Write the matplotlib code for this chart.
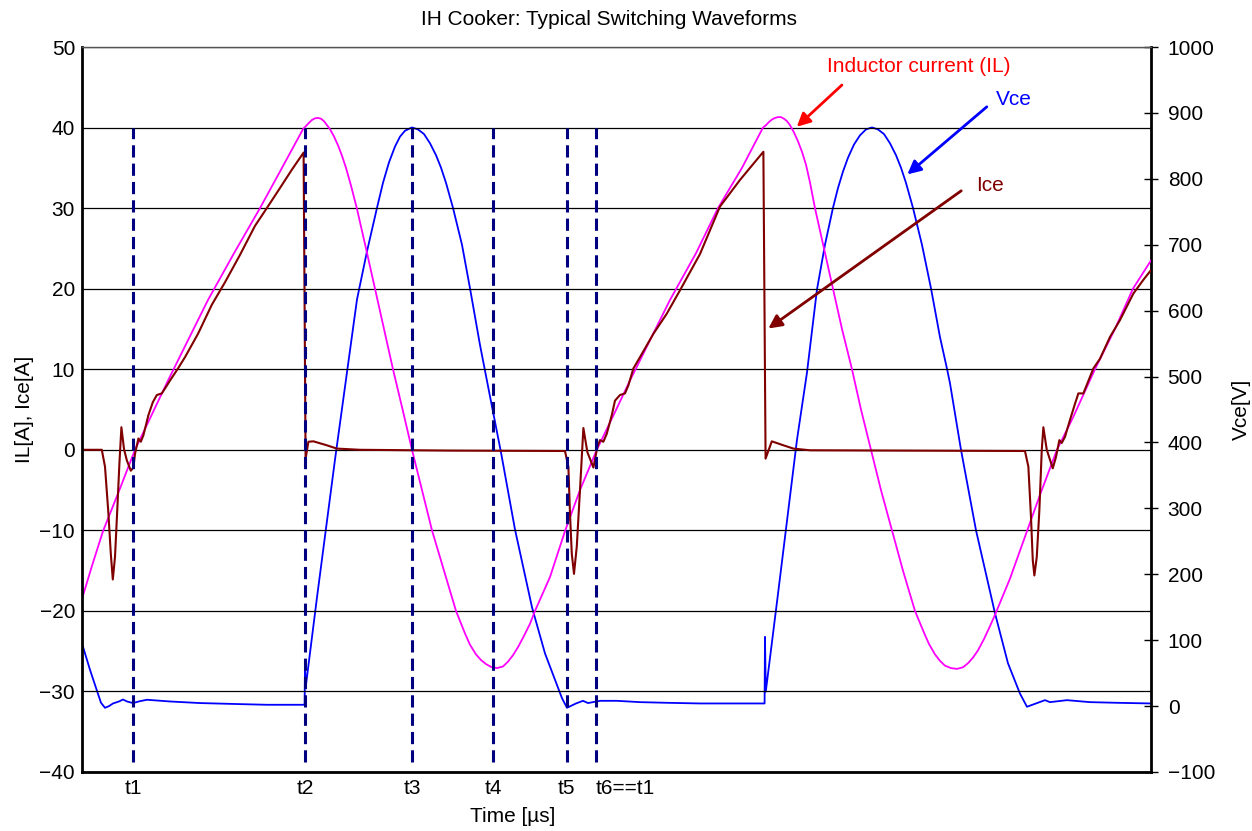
import matplotlib
matplotlib.use("Agg")
import matplotlib.pyplot as plt

plt.rcParams['font.family'] = ['Liberation Sans', 'DejaVu Sans']
plt.rcParams['font.size'] = 15

# Inductor current IL [A]
t_il = [0.0, 0.5, 1.05, 1.9, 2.65, 3.4, 4.3, 5.3, 6.3, 7.6, 8.9, 10.0, 11.05, 11.2,
        11.35, 11.5, 11.65, 11.8, 11.95, 12.1, 12.25, 12.4, 12.6, 12.8, 13.0, 13.2,
        13.45, 13.74, 14.2, 14.65, 15.1, 15.55, 16.03, 16.5, 17.0, 17.5, 18.1, 18.7,
        19.15, 19.4, 19.7, 19.95, 20.2, 20.45, 20.75, 21.05, 21.3, 21.55, 21.8, 22.1,
        22.4, 22.65, 23.4, 24.15, 24.9, 25.74, 26.5, 27.4, 28.4, 29.4, 30.7, 31.8, 33.0,
        34.05, 34.2, 34.35, 34.5, 34.65, 34.8, 34.95, 35.1, 35.25, 35.4, 35.6, 35.8,
        36.0, 36.2, 36.4, 36.65, 37.1, 37.55, 38.0, 38.5, 38.95, 39.45, 39.95, 40.5,
        41.05, 41.65, 42.1, 42.35, 42.65, 42.9, 43.15, 43.45, 43.75, 44.05, 44.3, 44.55,
        44.8, 45.1, 45.4, 45.65, 46.4, 47.15, 47.9, 48.75, 49.55, 50.65, 51.65, 52.55,
        53.45]
il = [-18.5, -14.4, -10.1, -4.8, 0.0, 3.9, 8.6, 13.6, 18.6, 24.4, 30.0, 35.0, 39.8, 40.2,
      40.6, 40.95, 41.15, 41.2, 41.1, 40.8, 40.3, 39.8, 38.9, 37.8, 36.5, 35.0,
      32.8, 30.0, 25.0, 20.0, 15.0, 10.0, 5.0, 0.0, -5.0, -10.0, -15.0, -20.0,
      -22.8, -24.2, -25.4, -26.1, -26.6, -26.95, -27.1, -26.9, -26.3, -25.5, -24.5, -23.1,
      -21.6, -20.0, -15.8, -10.1, -5.0, 0.0, 3.9, 8.6, 13.6, 18.6, 24.4, 30.0, 35.0,
      40.0, 40.3, 40.7, 41.0, 41.2, 41.3, 41.3, 41.1, 40.8, 40.3, 39.4, 38.3,
      37.0, 35.4, 33.2, 30.0, 25.0, 20.0, 15.0, 10.0, 5.0, 0.0, -5.0, -10.0,
      -15.0, -20.0, -22.7, -24.1, -25.4, -26.2, -26.8, -27.1, -27.2, -27.0, -26.5, -25.8,
      -24.9, -23.5, -21.9, -20.5, -16.0, -10.8, -5.6, 0.0, 4.0, 10.0, 15.0, 20.0,
      23.5]

# Collector-emitter current Ice [A]
t_ice = [0.0, 0.99, 1.15, 1.32, 1.44, 1.54, 1.65, 1.77, 1.87, 1.97, 2.1, 2.24, 2.44, 2.57,
         2.65, 2.82, 2.94, 3.07, 3.32, 3.54, 3.74, 3.99, 4.2, 4.4, 4.8, 5.15, 5.8, 6.49,
         7.15, 7.9, 8.65, 9.24, 9.9, 10.5, 11.08, 11.18, 11.32, 11.57, 12.24, 12.74, 13.9,
         18.4, 24.15, 24.32, 24.4, 24.49, 24.6, 24.74, 24.9, 25.07, 25.27, 25.57, 25.77,
         25.9, 26.07, 26.24, 26.49, 26.65, 26.9, 27.15, 27.32, 27.57, 27.9, 28.57, 29.24,
         29.9, 30.9, 31.9, 32.9, 34.07, 34.18, 34.49, 35.07, 35.57, 36.4, 40.9, 47.15,
         47.32, 47.45, 47.54, 47.62, 47.74, 47.87, 47.99, 48.07, 48.24, 48.54, 48.7, 48.87,
         48.99, 49.15, 49.4, 49.65, 49.82, 50.07, 50.57, 50.9, 51.4, 51.9, 52.57, 53.07,
         53.45]
ice = [0.0, 0.0, -2.1, -7.9, -12.9, -16.1, -13.3, -7.1, -1.7, 2.8, 0.1, -1.3, -2.6, -2.2,
       -0.5, 1.4, 1.0, 1.8, 4.3, 5.9, 6.8, 7.0, 7.8, 8.6, 10.1, 11.5, 14.4, 18.0,
       20.8, 24.2, 27.8, 30.0, 32.5, 34.8, 36.9, -1.1, 1.0, 1.05, 0.56, 0.15, 0.0,
       -0.1, -0.15, -2.1, -7.9, -12.9, -15.4, -12.0, -5.0, 2.7, -0.3, -2.2, 0.35,
       1.2, 1.0, 2.0, 4.3, 6.1, 6.8, 7.0, 8.0, 10.1, 11.5, 14.4, 16.9,
       19.8, 24.3, 30.2, 33.5, 37.0, -1.1, 1.05, 0.56, 0.15, -0.06, -0.1, -0.15,
       -2.1, -8.3, -13.7, -15.6, -13.3, -7.5, 0.0, 2.8, 0.0, -2.3, -0.9, 1.2,
       0.85, 1.6, 3.7, 5.7, 7.0, 7.0, 10.1, 11.3, 14.0, 16.1, 19.4, 21.1,
       22.3]

# Collector-emitter voltage Vce [V]
t_vce = [0.0, 0.4, 0.74, 0.95, 1.15, 1.35, 1.55, 1.85, 2.05, 2.25, 2.55, 2.9, 3.25, 4.4,
         5.9, 7.9, 9.25, 11.13, 11.15, 11.19, 11.75, 12.65, 13.75, 14.25, 14.75, 15.05,
         15.35, 15.65, 15.9, 16.15, 16.5, 16.8, 17.1, 17.4, 17.7, 17.95, 18.2, 18.55,
         19.0, 19.4, 19.9, 20.4, 20.95, 21.65, 22.5, 23.15, 23.65, 24.0, 24.25, 24.7,
         25.05, 25.3, 25.9, 26.75, 27.9, 29.25, 30.9, 32.55, 34.13, 34.15, 34.19, 34.8,
         35.75, 36.25, 36.75, 37.15, 37.55, 37.8, 38.05, 38.3, 38.6, 38.9, 39.2, 39.5,
         39.8, 40.1, 40.4, 40.7, 40.95, 41.2, 41.55, 42.0, 42.45, 42.9, 43.25, 43.4,
         43.95, 44.7, 45.65, 46.3, 46.9, 47.25, 47.7, 48.15, 48.4, 49.25, 50.4, 51.75,
         53.45]
vce = [95, 55, 24, 5, -2.6, 0, 4, 7, 10, 7, 4.6, 7.5, 9.6, 7,
       4.6, 3, 2, 2, 60, 30, 165, 374, 617, 690, 756, 794,
       825, 849, 864, 873, 878, 875, 868, 854, 836, 817, 794, 756,
       700, 634, 548, 470, 385, 268, 150, 80, 40, 12, -2.6, 4,
       8, 4.6, 8, 8, 6, 5, 4, 4, 4, 105, 22, 170,
       404, 506, 632, 700, 756, 786, 811, 832, 852, 866, 875, 878,
       875, 868, 854, 836, 817, 794, 756, 700, 634, 560, 512, 490,
       389, 267, 141, 65, 19, -1, 4, 9, 6, 9, 6, 5,
       4]

# switching instants
t_marks = [2.55, 11.15, 16.5, 20.57, 24.23, 25.7]
t_names = ['t1', 't2', 't3', 't4', 't5', 't6==t1']

fig = plt.figure(figsize=(12.52, 8.31), dpi=100)
ax = fig.add_axes([0.0655, 0.0710, 0.8538, 0.8724])
ax2 = ax.twinx()
ax.set_zorder(ax2.get_zorder() + 1)
ax.patch.set_visible(False)

ax2.plot(t_vce, vce, color='#0000FF', lw=1.3)
ax.plot(t_il, il, color='#FF00FF', lw=1.3)
ax.plot(t_ice, ice, color='#800000', lw=1.5)
ax.vlines(t_marks, -38.7, 40, colors='#000080', linestyles=(0, (4, 2)), lw=2.2, zorder=5)

ax.set_xlim(0, 53.45)
ax.set_ylim(-40, 50)
ax.set_yticks(range(-40, 51, 10))
ax2.set_ylim(-100, 1000)
ax2.set_yticks(range(-100, 1001, 100))
ax.yaxis.grid(True, color='k', lw=0.9)

ax.set_xticks(t_marks, labels=t_names)
ax.get_xticklabels()[-1].set_horizontalalignment('left')
ax.tick_params(axis='x', length=0, pad=5)
ax.tick_params(axis='y', length=0, pad=5)
ax2.tick_params(axis='y', direction='inout', length=10, width=1, pad=7)

for s in ['left', 'bottom']:
    ax.spines[s].set_linewidth(2)
ax.spines['right'].set_visible(False)
ax.spines['top'].set_linewidth(1)
ax.spines['top'].set_color('#555555')
for s in ['left', 'bottom', 'top']:
    ax2.spines[s].set_visible(False)
ax2.spines['right'].set_linewidth(2)

ax.set_title('IH Cooker: Typical Switching Waveforms', fontsize=15, pad=16, x=0.493)
ax.set_ylabel('IL[A], Ice[A]', labelpad=4)
ax2.set_ylabel('Vce[V]', labelpad=12)
ax.set_xlabel('Time [µs]')
ax.xaxis.set_label_coords(0.403, -0.048)

ax.annotate('Inductor current (IL)', xy=(35.74, 40.1), xytext=(41.85, 47.64),
            color='#FF0000', ha='center', va='center',
            arrowprops=dict(arrowstyle='-|>', color='#FF0000', lw=2, mutation_scale=20,
                            shrinkA=0, shrinkB=0, relpos=(0.08, -0.5)))
ax.annotate('Vce', xy=(41.27, 34.19), xytext=(46.57, 43.5),
            color='#0000FF', ha='center', va='center',
            arrowprops=dict(arrowstyle='-|>', color='#0000FF', lw=2, mutation_scale=20,
                            shrinkA=0, shrinkB=0, relpos=(-0.24, 0.11)))
ax.annotate('Ice', xy=(34.32, 15.06), xytext=(45.42, 32.86),
            color='#800000', ha='center', va='center',
            arrowprops=dict(arrowstyle='-|>', color='#800000', lw=2, mutation_scale=20,
                            shrinkA=0, shrinkB=0, relpos=(-0.55, 0.2)))

fig.savefig('out.png', dpi=100)
